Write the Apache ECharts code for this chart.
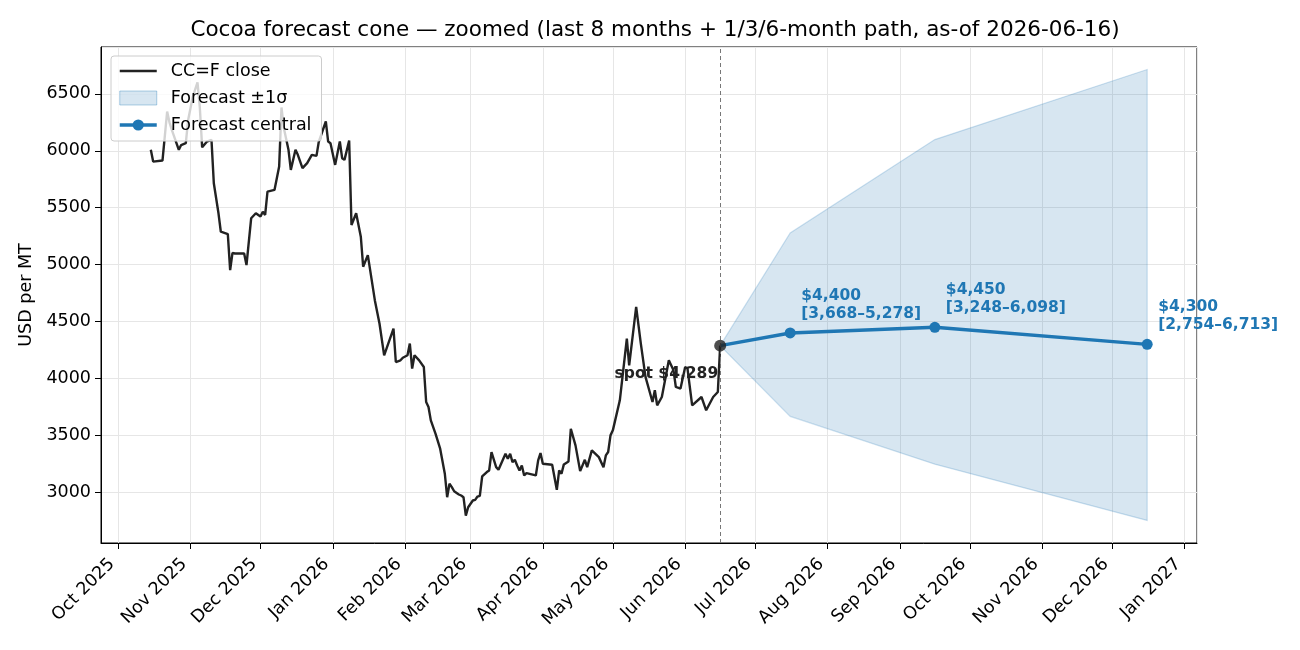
<!DOCTYPE html>
<html>
<head>
<meta charset="utf-8">
<script src="https://cdn.jsdelivr.net/npm/echarts@6/dist/echarts.min.js"></script>
<style>html,body{margin:0;padding:0;background:#fff}#chart{width:1300px;height:650px}</style>
</head>
<body>
<div id="chart"></div>
<script>
// ---- data ----
const closeDates = [
'2025-10-15','2025-10-16','2025-10-20','2025-10-22','2025-10-23','2025-10-24','2025-10-27','2025-10-28','2025-10-30','2025-10-31',
'2025-11-02','2025-11-04','2025-11-05','2025-11-06','2025-11-08','2025-11-10','2025-11-11','2025-11-13','2025-11-14','2025-11-17',
'2025-11-18','2025-11-19','2025-11-20','2025-11-24','2025-11-25','2025-11-27','2025-11-29','2025-12-01','2025-12-02','2025-12-03',
'2025-12-04','2025-12-07','2025-12-09','2025-12-10','2025-12-11','2025-12-13','2025-12-14','2025-12-16','2025-12-17','2025-12-19',
'2025-12-21','2025-12-23','2025-12-25','2025-12-26','2025-12-29','2025-12-30','2025-12-31','2026-01-02','2026-01-04','2026-01-05',
'2026-01-06','2026-01-08','2026-01-09','2026-01-11','2026-01-13','2026-01-14','2026-01-16','2026-01-19','2026-01-21','2026-01-23',
'2026-01-27','2026-01-28','2026-01-30','2026-01-31','2026-02-02','2026-02-03','2026-02-04','2026-02-05','2026-02-07','2026-02-09',
'2026-02-10','2026-02-11','2026-02-12','2026-02-14','2026-02-16','2026-02-18','2026-02-19','2026-02-20','2026-02-21','2026-02-22',
'2026-02-24','2026-02-25','2026-02-26','2026-02-27','2026-02-28','2026-03-02','2026-03-03','2026-03-04','2026-03-05','2026-03-06',
'2026-03-08','2026-03-09','2026-03-10','2026-03-12','2026-03-13','2026-03-16','2026-03-17','2026-03-18','2026-03-19','2026-03-20',
'2026-03-21','2026-03-22','2026-03-23','2026-03-24','2026-03-25','2026-03-29','2026-03-30','2026-03-31','2026-04-01','2026-04-05',
'2026-04-07','2026-04-08','2026-04-09','2026-04-10','2026-04-12','2026-04-13','2026-04-15','2026-04-17','2026-04-19','2026-04-20',
'2026-04-22','2026-04-25','2026-04-27','2026-04-28','2026-04-29','2026-04-30','2026-05-01','2026-05-04','2026-05-07','2026-05-08',
'2026-05-11','2026-05-13','2026-05-15','2026-05-18','2026-05-19','2026-05-20','2026-05-22','2026-05-25','2026-05-27','2026-05-28',
'2026-05-30','2026-06-01','2026-06-02','2026-06-04','2026-06-08','2026-06-10','2026-06-13','2026-06-15','2026-06-16'
];
const closeValues = [
6008,5905,5914,6344,6250,6183,6008,6050,6066,6271,
6476,6600,6380,6030,6080,6095,5715,5451,5289,5268,
4952,5104,5098,5098,4996,5407,5451,5422,5465,5436,
5641,5656,5861,6380,6200,6008,5832,6008,5964,5847,
5891,5964,5955,6081,6257,6081,6066,5876,6081,5935,
5920,6090,5348,5451,5245,4982,5084,4688,4483,4204,
4438,4145,4160,4183,4204,4307,4087,4204,4160,4101,
3794,3750,3633,3516,3384,3164,2958,3076,3047,3010,
2982,2973,2958,2797,2870,2929,2935,2964,2970,3140,
3179,3193,3354,3222,3199,3340,3295,3340,3266,3287,
3237,3193,3237,3149,3170,3149,3281,3346,3252,3243,
3023,3193,3164,3246,3272,3559,3413,3187,3287,3222,
3369,3310,3222,3325,3355,3501,3545,3809,4351,4116,
4630,4307,4014,3794,3897,3765,3838,4160,4072,3926,
3912,4101,4087,3765,3838,3721,3838,3882,4289
];
const spotDate = '2026-06-16';
const spotValue = 4289;
const fcDates = ['2026-06-16','2026-07-16','2026-09-16','2026-12-16'];
const fcCentral = [4289, 4400, 4450, 4300];
const fcLower = [4289, 3668, 3248, 2754];
const fcUpper = [4289, 5278, 6098, 6713];
const monthNames = ['Jan','Feb','Mar','Apr','May','Jun','Jul','Aug','Sep','Oct','Nov','Dec'];
const titleText = 'Cocoa forecast cone \u2014 zoomed (last 8 months + 1/3/6-month path, as-of 2026-06-16)';

// ---- helpers ----
const ts = s => new Date(s.length > 10 ? s.replace(' ', 'T') : s + 'T00:00:00').getTime();
const fmt = n => n.toLocaleString('en-US');

const C0 = '#1f77b4';
const FONT = 'DejaVu Sans';

const chart = echarts.init(document.getElementById('chart'), null, {renderer: 'canvas'});

const fcData = fcDates.map((d, i) => {
  const item = {value: [ts(d), fcCentral[i]]};
  if (i === 0) { item.symbol = 'none'; item.label = {show: false}; }
  return item;
});

const option = {
  animation: false,
  backgroundColor: '#fff',
  textStyle: {fontFamily: FONT},
  title: {
    text: titleText, left: 650, textAlign: 'center', top: 14,
    textStyle: {fontFamily: FONT, fontSize: 21.5, fontWeight: 'normal', color: '#000'}
  },
  grid: {left: 101, right: 103, top: 47, bottom: 107, show: true, borderColor: '#000', borderWidth: 1, containLabel: false},
  legend: {
    orient: 'vertical', left: 111, top: 56,
    padding: [6, 10, 7, 7], itemGap: 9, itemWidth: 37, itemHeight: 14,
    backgroundColor: 'rgba(255,255,255,0.8)', borderColor: '#cccccc', borderWidth: 1, borderRadius: 3,
    textStyle: {fontFamily: FONT, fontSize: 17.5, color: '#000', padding: [0, 0, 0, 9], lineHeight: 18},
    data: [
      {name: 'CC=F close', icon: 'path://M0,0L37,0L37,2.4L0,2.4Z', itemStyle: {color: '#222222'}},
      {name: 'Forecast \u00b11\u03c3', icon: 'rect', itemStyle: {color: 'rgba(31,119,180,0.18)', borderColor: 'rgba(31,119,180,0.35)', borderWidth: 1}},
      {name: 'Forecast central', lineStyle: {width: 3.5}}
    ]
  },
  xAxis: {
    type: 'time',
    min: ts('2025-09-23 15:36'), max: ts('2027-01-06 08:24'),
    splitNumber: 15,
    axisLine: {show: true, lineStyle: {color: '#000', width: 1}},
    axisTick: {show: true, length: 6, lineStyle: {color: '#000'}},
    minorTick: {show: false},
    splitLine: {show: true, lineStyle: {color: '#e6e6e6', width: 1}},
    axisLabel: {
      rotate: 45, margin: 12, fontFamily: FONT, fontSize: 17.5, color: '#000',
      padding: [0, 9, 0, 0],
      showMinLabel: false, showMaxLabel: false,
      formatter: v => { const d = new Date(v); return monthNames[d.getMonth()] + ' ' + d.getFullYear(); }
    }
  },
  yAxis: {
    type: 'value', min: 2556, max: 6911, splitNumber: 8,
    name: 'USD per MT', nameLocation: 'middle', nameGap: 66, nameRotate: 90,
    nameTextStyle: {fontFamily: FONT, fontSize: 17.5, color: '#000'},
    axisLine: {show: true, lineStyle: {color: '#000', width: 1}},
    axisTick: {show: true, length: 6, lineStyle: {color: '#000'}},
    splitLine: {show: true, lineStyle: {color: '#e6e6e6', width: 1}},
    axisLabel: {fontFamily: FONT, fontSize: 17.5, color: '#000', margin: 10, showMinLabel: false, showMaxLabel: false,
      formatter: v => String(v)}
  },
  series: [
    {
      type: 'custom', name: 'Forecast \u00b11\u03c3', z: 1, clip: true,
      itemStyle: {color: 'rgba(31,119,180,0.18)'},
      data: fcDates.map((d, i) => [ts(d), fcLower[i], fcUpper[i]]),
      encode: {x: 0, y: [1, 2]},
      renderItem: (params, api) => {
        if (params.dataIndex !== 0) return null;
        const pts = [];
        for (let i = 0; i < fcDates.length; i++) pts.push(api.coord([ts(fcDates[i]), fcUpper[i]]));
        for (let i = fcDates.length - 1; i >= 0; i--) pts.push(api.coord([ts(fcDates[i]), fcLower[i]]));
        return {type: 'polygon', shape: {points: pts}, style: {fill: 'rgba(31,119,180,0.18)', stroke: 'rgba(31,119,180,0.22)', lineWidth: 1.2}};
      }
    },
    {
      type: 'line', name: 'CC=F close', z: 3,
      data: closeDates.map((d, i) => [ts(d), closeValues[i]]),
      symbol: 'none', lineStyle: {color: '#222222', width: 2.4}, itemStyle: {color: '#222222'},
      markLine: {
        silent: true, symbol: 'none', label: {show: false},
        lineStyle: {color: '#777777', type: [4, 3], width: 1},
        data: [{xAxis: ts(spotDate)}]
      }
    },
    {
      type: 'line', name: 'Forecast central', z: 4,
      data: fcData,
      symbol: 'circle', symbolSize: 11, showSymbol: true,
      lineStyle: {color: C0, width: 3.5}, itemStyle: {color: C0},
      label: {
        show: true, position: [16.5, -41], align: 'left', verticalAlign: 'top',
        fontFamily: FONT, fontSize: 15.5, fontWeight: 'bold', color: C0, lineHeight: 18,
        textBorderWidth: 0,
        formatter: p => {
          const i = p.dataIndex;
          return '$' + fmt(fcCentral[i]) + '\n[' + fmt(fcLower[i]) + '\u2013' + fmt(fcUpper[i]) + ']';
        }
      }
    },
    {
      type: 'scatter', name: 'spot', z: 6,
      data: [[ts(spotDate), spotValue]],
      symbol: 'circle', symbolSize: 12, itemStyle: {color: '#222222'},
      label: {
        show: true, position: [4, 26], align: 'right', verticalAlign: 'top',
        fontFamily: FONT, fontSize: 15.5, fontWeight: 'bold', color: '#222222',
        textBorderWidth: 0, textBorderColor: 'transparent', opacity: 1,
        formatter: () => 'spot $' + fmt(spotValue)
      }
    }
  ]
};
chart.setOption(option);
</script>
</body>
</html>
